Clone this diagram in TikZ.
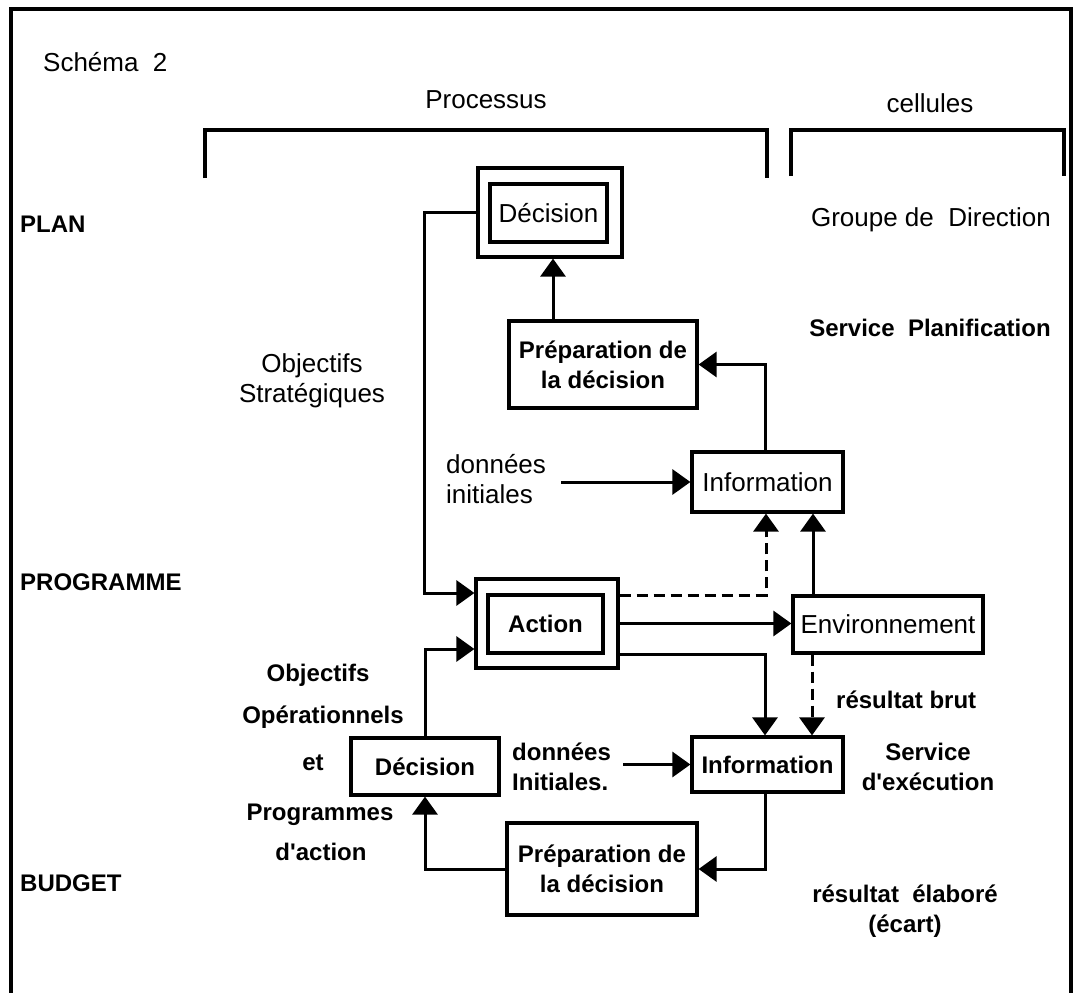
\documentclass[tikz,border=0pt]{standalone}
\usepackage{fontspec}
\setmainfont{Liberation Sans}
\usetikzlibrary{arrows.meta,calc}
\begin{document}
\begin{tikzpicture}[x=1pt,y=-1pt,
  every node/.style={font=\fontsize{26}{30}\selectfont, inner sep=0pt},
  bf/.style={font=\fontsize{24}{30}\selectfont\bfseries},
  lvl/.style={font=\fontsize{24}{28}\selectfont\bfseries, anchor=west},
  box/.style={draw, rectangle, line width=3.2pt, inner sep=0pt, align=center},
  lines/.style={line width=3.2pt},
  arr/.style={line width=3pt, -{Triangle[length=18pt,width=25pt]}},
  dsh/.style={dash pattern=on 11pt off 6pt}]

\useasboundingbox (0,0) rectangle (1082,993);
\fill[white] (0,0) rectangle (1082,993);

% outer frame, open at the bottom
\draw[lines] (11,993) -- (11,9) -- (1071,9) -- (1071,993);

% column headings with their brackets
\node[anchor=west] (title) at (43,62) {Schéma\ \ 2};
\node (proc) at (486,100) {Processus};
\node (cell) at (930,103) {cellules};
\draw[lines] (205,178) -- (205,130) -- (767,130) -- (767,178);
\draw[lines] (791,176) -- (791,130) -- (1064,130) -- (1064,176);

% levels
\node[lvl] (plan) at (20,224) {PLAN};
\node[lvl] (prog) at (20,582) {PROGRAMME};
\node[lvl] (budg) at (20,883) {BUDGET};

% cells
\node (grp) at (931,220) {Groupe de\ \ Direction};
\node[bf] (splan) at (930,328) {Service\ \ Planification};
\node[bf, align=center] (sexec) at (928,767) {Service\\d\textquotesingle exécution};

% boxes of the process
\node[box, minimum width=144, minimum height=89] (decP) at (550,212.5) {};
\node[box, minimum width=117, minimum height=58] (decPin) at (548.5,213) {Décision};
\node[box, bf, minimum width=188, minimum height=87] (prepP) at (603,364.5) {Préparation de\\la décision};
\node[box, minimum width=151, minimum height=60] (infoP) at (767.5,482) {Information};
\node[box, minimum width=142, minimum height=89] (action) at (547,623.5) {};
\node[box, bf, minimum width=115, minimum height=58] (actin) at (545.5,624) {Action};
\node[box, minimum width=190, minimum height=57] (env) at (888,624.5) {Environnement};
\node[box, bf, minimum width=151, minimum height=55] (infoB) at (767.5,764.5) {Information};
\node[box, bf, minimum width=148, minimum height=57] (decB) at (425,766.5) {Décision};
\node[box, bf, minimum width=190, minimum height=92] (prepB) at (602,869) {Préparation de\\la décision};

% free labels
\node[align=center] (objS) at (312,381) {Objectifs\\Stratégiques};
\node[align=left, anchor=west] (donP) at (446,479) {données\\initiales};
\node[bf, align=left, anchor=west] (donB) at (512,767) {données\\Initiales.};
\node[bf] (ob1) at (318,675) {Objectifs};
\node[bf] (ob2) at (323,717) {Opérationnels};
\node[bf] (ob3) at (313,763) {et};
\node[bf] (ob4) at (320,815) {Programmes};
\node[bf] (ob5) at (321,852) {d\textquotesingle action};
\node[bf, anchor=west] (rbrut) at (836,700) {résultat brut};
\node[bf, align=center] (relab) at (905,911) {résultat\ \ élaboré\\(écart)};

% bend points on the box sides
\coordinate (actA) at ($(action.west)+(0,-30.5)$);
\coordinate (actB) at ($(action.west)+(0,25.5)$);
\coordinate (actC) at ($(action.east)+(0,-28.5)$);
\coordinate (actD) at ($(action.east)+(0,30.5)$);
\coordinate (infPa) at ($(infoP.south)+(-1.5,0)$);
\coordinate (infPb) at ($(infoP.south)+(45.5,0)$);
\coordinate (infBa) at ($(infoB.north)+(-2.5,0)$);
\coordinate (infBb) at ($(infoB.north)+(44.5,0)$);
\coordinate (infBs) at ($(infoB.south)+(-2.5,0)$);
\coordinate (decPs) at ($(decP.south)+(3,0)$);

% connectors
\draw[arr] (decPs |- prepP.north) -- (decPs);
\draw[arr] ($(infoP.north)+(-2.5,0)$) |- (prepP.east);
\draw[arr] (decP.west) -- ++(-52,0) |- (actA);
\draw[arr] (decB.north) |- (actB);
\draw[arr, dsh] (actC) -| (infPa);
\draw[arr] (env.north -| infPb) -- (infPb);
\draw[arr] (action.east) -- (action.east -| env.west);
\draw[arr] (actD) -| (infBa);
\draw[arr, dsh] (env.south -| infBb) -- (infBb);
\draw[arr] (infBs) |- (prepB.east);
\draw[arr] (prepB.west) -| (decB.south);
\draw[arr] ([xshift=15pt]donP.east |- infoP.west) -- (infoP.west);
\draw[arr] ([xshift=12pt]donB.east |- infoB.west) -- (infoB.west);
\end{tikzpicture}
\end{document}
